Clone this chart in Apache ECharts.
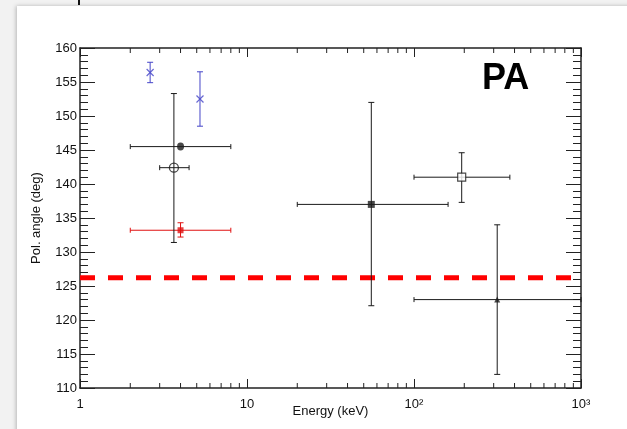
<!DOCTYPE html>
<html>
<head>
<meta charset="utf-8">
<script src="https://cdn.jsdelivr.net/npm/echarts@6/dist/echarts.min.js"></script>
<style>html,body{margin:0;padding:0;background:#f2f2f2;}#c{width:627px;height:429px;}</style>
</head>
<body>
<div id="c"></div>
<script>
// ---- data ----
const pointNames = ['blueX1', 'blueX2', 'filledCircle', 'openCircle', 'redSquare', 'filledSquare', 'openSquare', 'triangle'];
const energy   = [2.63, 5.23, 4.0, 3.65, 4.0, 55.5, 193, 315];
const angle    = [156.4, 152.5, 145.5, 142.4, 133.2, 137.0, 141.0, 123.0];
const energyLo = [null, null, 2.0, 3.0, 2.0, 20, 100, 100];
const energyHi = [null, null, 8.0, 4.5, 8.0, 160, 375, 1000];
const angleLo  = [154.9, 148.5, null, 131.4, 132.2, 122.1, 137.3, 112.0];
const angleHi  = [157.9, 156.5, null, 153.3, 134.3, 152.0, 144.6, 134.0];
const refAngle = 126.2;
const xMin = 1, xMax = 1000, yMin = 110, yMax = 160, yInterval = 5;
const xMinorTicks = [2,3,4,5,6,7,8,9,20,30,40,50,60,70,80,90,200,300,400,500,600,700,800,900];
const xTickLabels = {1: '1', 10: '10', 100: '10²', 1000: '10³'};
const xName = 'Energy (keV)';
const yName = 'Pol. angle (deg)';
const panelLabel = 'PA';

// ---- styles ----
const BLUE = '#4444c8', RED = '#e01010', BLACK = '#1a1a1a';
const pointColor = [BLUE, BLUE, BLACK, BLACK, RED, BLACK, BLACK, BLACK];
const markerStyle = {
  blueX1:      {symbol: 'path://M0,0L10,10M10,0L0,10', size: 7, itemStyle: {color: 'none', borderColor: BLUE, borderWidth: 1.2}},
  blueX2:      {symbol: 'path://M0,0L10,10M10,0L0,10', size: 7, itemStyle: {color: 'none', borderColor: BLUE, borderWidth: 1.2}},
  filledCircle:{symbol: 'circle', size: [7, 8], itemStyle: {color: BLACK}},
  openCircle:  {symbol: 'circle', size: 9, itemStyle: {color: 'none', borderColor: BLACK, borderWidth: 1.3}},
  redSquare:   {symbol: 'rect', size: 6, itemStyle: {color: RED}},
  filledSquare:{symbol: 'rect', size: 7, itemStyle: {color: BLACK}},
  openSquare:  {symbol: 'rect', size: 8, itemStyle: {color: '#fff', borderColor: BLACK, borderWidth: 1.2}},
  triangle:    {symbol: 'triangle', size: 6, itemStyle: {color: BLACK}}
};

const xErrData = [], yErrData = [];
energy.forEach((e, i) => {
  if (energyLo[i] != null) xErrData.push({value: [e, angle[i], energyLo[i], energyHi[i]], color: pointColor[i]});
  if (angleLo[i] != null) yErrData.push({value: [e, angle[i], angleLo[i], angleHi[i]], color: pointColor[i]});
});

function renderXErr(params, api) {
  const d = xErrData[params.dataIndex];
  const a = api.coord([api.value(2), api.value(1)]);
  const b = api.coord([api.value(3), api.value(1)]);
  const st = {stroke: d.color, lineWidth: 1};
  return {type: 'group', children: [
    {type: 'line', shape: {x1: a[0], y1: a[1], x2: b[0], y2: b[1]}, style: st},
    {type: 'line', shape: {x1: a[0], y1: a[1] - 2.5, x2: a[0], y2: a[1] + 2.5}, style: st},
    {type: 'line', shape: {x1: b[0], y1: b[1] - 2.5, x2: b[0], y2: b[1] + 2.5}, style: st}
  ]};
}
function renderYErr(params, api) {
  const d = yErrData[params.dataIndex];
  const a = api.coord([api.value(0), api.value(2)]);
  const b = api.coord([api.value(0), api.value(3)]);
  const st = {stroke: d.color, lineWidth: 1};
  return {type: 'group', children: [
    {type: 'line', shape: {x1: a[0], y1: a[1], x2: b[0], y2: b[1]}, style: st},
    {type: 'line', shape: {x1: a[0] - 3, y1: a[1], x2: a[0] + 3, y2: a[1]}, style: st},
    {type: 'line', shape: {x1: b[0] - 3, y1: b[1], x2: b[0] + 3, y2: b[1]}, style: st}
  ]};
}
function renderMinor(params, api) {
  const v = api.value(0);
  const bot = api.coord([v, yMin]);
  const top = api.coord([v, yMax]);
  const st = {stroke: '#222', lineWidth: 1};
  return {type: 'group', children: [
    {type: 'line', shape: {x1: bot[0], y1: bot[1], x2: bot[0], y2: bot[1] - 5}, style: st},
    {type: 'line', shape: {x1: top[0], y1: top[1], x2: top[0], y2: top[1] + 5}, style: st}
  ]};
}

const FONT = '"Liberation Sans", Arial, sans-serif';
const axisLine = {show: true, lineStyle: {color: '#222', width: 1.5}};
const xBase = {
  type: 'log', logBase: 10, min: xMin, max: xMax,
  axisLine: axisLine, splitLine: {show: false},
  axisTick: {show: true, inside: true, length: 9, lineStyle: {color: '#222', width: 1}},
};
const yBase = {
  type: 'value', min: yMin, max: yMax, interval: yInterval,
  axisLine: axisLine, splitLine: {show: false},
  axisTick: {show: true, inside: true, length: 15, lineStyle: {color: '#222', width: 1}},
  minorTick: {show: true, splitNumber: 5, length: 8, lineStyle: {color: '#222', width: 1}},
  minorSplitLine: {show: false}
};

const series = [
  {type: 'line', xAxisIndex: 0, yAxisIndex: 0, data: [[xMin, refAngle], [xMax, refAngle]], symbol: 'none',
   lineStyle: {color: '#ff0000', width: 5, type: [15, 13]}, z: 1, silent: true},
  {type: 'custom', xAxisIndex: 0, yAxisIndex: 0, data: xMinorTicks.map(v => [v]), renderItem: renderMinor, clip: false, z: 3, silent: true},
  {type: 'custom', xAxisIndex: 0, yAxisIndex: 0, data: xErrData.map(d => d.value), renderItem: renderXErr, z: 4, silent: true},
  {type: 'custom', xAxisIndex: 0, yAxisIndex: 0, data: yErrData.map(d => d.value), renderItem: renderYErr, z: 4, silent: true}
];
pointNames.forEach((n, i) => {
  const m = markerStyle[n];
  series.push({type: 'scatter', xAxisIndex: 0, yAxisIndex: 0, data: [[energy[i], angle[i]]],
    symbol: m.symbol, symbolSize: m.size, itemStyle: m.itemStyle, z: 5, silent: true});
});

const chart = echarts.init(document.getElementById('c'), null, {renderer: 'canvas'});
chart.setOption({
  backgroundColor: '#f2f2f2',
  animation: false,
  grid: {left: 80, right: 46, top: 48, bottom: 41, containLabel: false, outerBoundsMode: 'none'},
  graphic: [
    {type: 'rect', left: 17, top: 6, shape: {width: 620, height: 430}, style: {fill: '#fff', shadowBlur: 4, shadowColor: 'rgba(0,0,0,0.25)', shadowOffsetX: -1}, z: -10},
    {type: 'rect', left: 78, top: 0, shape: {width: 2, height: 5}, style: {fill: '#111'}, z: -9},
    {type: 'text', left: 482, top: 61, style: {text: panelLabel, font: 'bold 36px ' + FONT, fill: '#000'}, z: 10}
  ],
  xAxis: [
    Object.assign({}, xBase, {position: 'bottom', name: xName, nameLocation: 'middle', nameGap: 17, nameMoveOverlap: false,
      nameTextStyle: {fontFamily: FONT, fontSize: 13, color: '#111'},
      axisLabel: {show: true, margin: 10, fontFamily: FONT, fontSize: 13, color: '#111',
        formatter: v => xTickLabels[Math.round(v)] || ''}}),
    Object.assign({}, xBase, {position: 'top', axisLabel: {show: false}})
  ],
  yAxis: [
    Object.assign({}, yBase, {position: 'left', name: yName, nameLocation: 'middle', nameGap: 37, nameMoveOverlap: false,
      nameTextStyle: {fontFamily: FONT, fontSize: 13, color: '#111'},
      axisLabel: {show: true, margin: 3, fontFamily: FONT, fontSize: 13, color: '#111'}}),
    Object.assign({}, yBase, {position: 'right', axisLabel: {show: false}})
  ],
  series: series
});
</script>
</body>
</html>
